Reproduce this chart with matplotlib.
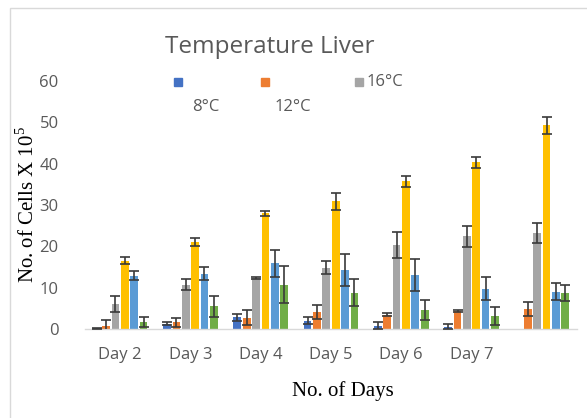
import numpy as np
import matplotlib.pyplot as plt
from matplotlib.patches import Rectangle

# categories (last group has no label on the chart)
days = ['Day 2', 'Day 3', 'Day 4', 'Day 5', 'Day 6', 'Day 7', '']

# bar heights, one list per series
s8 = [0.2, 1.3, 2.8, 2.0, 0.8, 0.6, 0.0]
s12 = [0.8, 1.6, 2.7, 4.0, 3.5, 4.3, 4.8]
s16 = [6.1, 10.7, 12.4, 14.8, 20.3, 22.4, 23.2]
s20 = [16.5, 21.1, 28.0, 30.9, 35.7, 40.3, 49.3]
s24 = [12.9, 13.4, 15.9, 14.2, 13.1, 9.7, 9.0]
s28 = [1.7, 5.5, 10.7, 8.8, 4.6, 3.1, 8.7]

# error bar half-lengths
e8 = [0.1, 0.4, 0.9, 0.9, 0.8, 0.7, np.nan]
e12 = [1.3, 1.0, 1.8, 1.7, 0.4, 0.3, 1.7]
e16 = [2.0, 1.3, 0.2, 1.6, 3.2, 2.5, 2.4]
e20 = [0.8, 1.0, 0.6, 2.1, 1.4, 1.3, 2.1]
e24 = [1.1, 1.6, 3.2, 3.9, 3.8, 2.8, 2.1]
e28 = [1.3, 2.5, 4.5, 3.2, 2.4, 2.2, 1.9]

labels = ['8°C', '12°C', '16°C', '20°C', '24°C', '28°C']
colors = ['#4472C4', '#ED7D31', '#A5A5A5', '#FFC000', '#5B9BD5', '#70AD47']
values = [s8, s12, s16, s20, s24, s28]
errors = [e8, e12, e16, e20, e24, e28]

txt = '#595959'
sans = 'Open Sans'
serif = 'Liberation Serif'
plt.rcParams['mathtext.fontset'] = 'custom'
plt.rcParams['mathtext.rm'] = serif

fig = plt.figure(figsize=(5.87, 4.18), dpi=100)
W, H = 587.0, 418.0

# light chart-area border (left and top visible)
fig.patches.append(Rectangle((10 / W, -0.1), 1.2, 1 - 8 / H + 0.1, transform=fig.transFigure,
                             fill=False, edgecolor='#D9D9D9', linewidth=1.0))

ax = fig.add_axes([85 / W, 1 - 329 / H, 492 / W, 248 / H])

x = np.arange(len(days))
pitch = 0.133
width = 0.11
for i, (v, e, c) in enumerate(zip(values, errors, colors)):
    xs = x + (i - 2.5) * pitch
    ax.bar(xs, v, width=width, color=c, zorder=2)
    ev = np.array(e, dtype=float)
    ok = ~np.isnan(ev)
    ax.errorbar(xs[ok], np.array(v)[ok], yerr=ev[ok], fmt='none', ecolor='#3A3A3A',
                elinewidth=1.2, capsize=3.5, capthick=1.2, zorder=3)

ax.set_xlim(-0.5, 6.5)
ax.set_ylim(0, 60)
ax.set_yticks(range(0, 61, 10))
ax.set_xticks(x)
ax.set_xticklabels(days)
for s in ['top', 'right', 'left']:
    ax.spines[s].set_visible(False)
ax.spines['bottom'].set_color('#D9D9D9')
ax.spines['bottom'].set_linewidth(1.0)
ax.tick_params(axis='both', length=0, labelsize=12, labelcolor=txt)
ax.tick_params(axis='y', pad=19)
ax.tick_params(axis='x', pad=13)
for t in ax.get_xticklabels() + ax.get_yticklabels():
    t.set_fontfamily(sans)

fig.text(270 / W, 1 - 47 / H, 'Temperature Liver', ha='center', va='center',
         fontsize=17.5, color=txt, family=sans)

# legend laid out the way the chart shows it
sq = 8.5
for cx, c in [(178, colors[0]), (265, colors[1]), (359, colors[2])]:
    fig.patches.append(Rectangle(((cx - sq / 2) / W, 1 - (82 + sq / 2) / H), sq / W, sq / H,
                                 transform=fig.transFigure, color=c))
fig.text(206 / W, 1 - 107 / H, labels[0], ha='center', va='center', fontsize=12, color=txt, family=sans)
fig.text(293 / W, 1 - 107 / H, labels[1], ha='center', va='center', fontsize=12, color=txt, family=sans)
fig.text(367 / W, 1 - 82 / H, labels[2], ha='left', va='center', fontsize=12, color=txt, family=sans)

fig.text(28 / W, 1 - 205 / H, r'No. of Cells X 10$^{\mathrm{5}}$', rotation=90, ha='center', va='center',
         fontsize=15, color='black', family=serif)
fig.text(343 / W, 1 - 391 / H, 'No. of Days', ha='center', va='center',
         fontsize=15, color='black', family=serif)

fig.savefig('out.png', dpi=100)
